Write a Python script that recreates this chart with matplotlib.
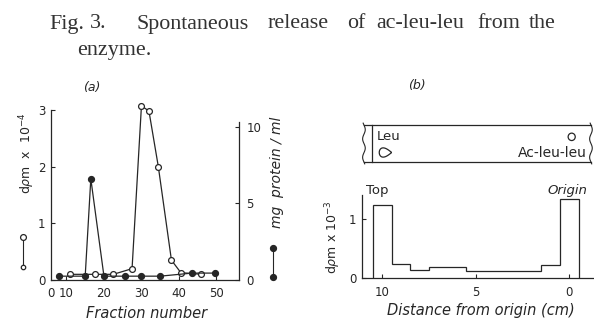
import numpy as np
import matplotlib
matplotlib.use("Agg")
import matplotlib.pyplot as plt
from matplotlib.path import Path
from matplotlib.patches import Ellipse

# ---- data ----
# (a) gel filtration: radioactivity (open) and protein (filled)
frac_dpm = [11, 17.5, 22.5, 27.5, 30, 32, 34.5, 38, 40.5, 46]
dpm_e4 = [0.1, 0.1, 0.1, 0.2, 3.07, 2.98, 2.0, 0.35, 0.13, 0.1]
frac_prot = [8, 15, 16.5, 20, 25.5, 30, 35, 43.5, 49.5]
prot_mg = [0.25, 0.25, 6.6, 0.25, 0.25, 0.25, 0.25, 0.45, 0.45]
xticks_a = [10, 20, 30, 40, 50]

# (b) paper strip radioactivity, distance from origin (cm)
bin_edges = [10.5, 9.5, 8.5, 7.5, 5.5, 1.5, 0.5, -0.5]
dpm_e3 = [1.23, 0.24, 0.13, 0.18, 0.12, 0.22, 1.34]
xticks_b = [10, 5, 0]
spot_leu = (9.86, 0.28)
spot_acll = (-0.13, 0.68)

# caption words and their left edges (px), the printed line is justified
caption = ["Fig.", "3.", "Spontaneous", "release", "of", "ac-leu-leu", "from", "the"]
caption_x = [49, 90, 137, 268, 347, 376, 477, 529]

ink = "#262626"
plt.rcParams['font.family'] = ['DejaVu Sans']

W, H = 594, 320
fig = plt.figure(figsize=(W / 100, H / 100), dpi=100)

def box(l, r, t, b):
    # pixel box -> figure fraction
    return [l / W, 1 - b / H, (r - l) / W, (b - t) / H]

for word, xw in zip(caption, caption_x):
    fig.text(xw / W, 1 - 28.5 / H, word, family="Liberation Serif", fontsize=15.8,
             color="#333", va="baseline", ha="left")
fig.text(77 / W, 1 - 55 / H, "enzyme.", family="Liberation Serif", fontsize=15.8,
         color="#333", va="baseline", ha="left")

# ---------------- panel (a) ----------------
ax = fig.add_axes(box(50.7, 239.3, 104.2, 280))
ax2 = ax.twinx()
ax.set_xlim(5.8, 56.1)
ax.set_ylim(0, 3.1)
ax2.set_ylim(0, 11.46)

ax.plot(frac_dpm, dpm_e4, color=ink, lw=0.9, marker="o", ms=4.2, mfc="white",
        mec=ink, mew=0.9, clip_on=False, zorder=3)
ax2.plot(frac_prot, prot_mg, color=ink, lw=0.9, marker="o", ms=4.2, mfc=ink,
         mec=ink, clip_on=False, zorder=3)

for a in (ax, ax2):
    a.spines["top"].set_visible(False)
    for s in a.spines.values():
        s.set_color(ink)
        s.set_linewidth(0.9)
ax.spines["right"].set_visible(False)
ax.spines["left"].set_bounds(0, 3)
ax2.spines["right"].set_bounds(0, 10.3)
ax2.spines["left"].set_visible(False)
ax2.spines["bottom"].set_visible(False)

tick_font = dict(fontsize=8.5, color=ink)
ax.set_xticks([5.8] + xticks_a)
ax.set_xticklabels(["0"] + [str(t) for t in xticks_a], **tick_font)
ax.set_yticks([0, 1, 2, 3])
ax.set_yticklabels(["0", "1", "2", "3"], **tick_font)
ax2.set_yticks([0, 5, 10])
ax2.set_yticklabels(["0", "5", "10"], **tick_font)
ax.tick_params(direction="in", length=3, width=0.8, color=ink, pad=4)
ax.tick_params(axis="x", pad=5)
ax2.tick_params(direction="in", length=3, width=0.8, color=ink, pad=5)
ax.xaxis.get_major_ticks()[0].tick1line.set_visible(False)

fig.text(147 / W, 1 - 314 / H, "Fraction number", fontsize=10.5, style="italic",
         color=ink, ha="center", va="center")
fig.text(27 / W, 1 - 153 / H, r"d$\rho$m  x  10$^{-4}$", fontsize=9, rotation=90,
         color=ink, ha="center", va="center")
fig.text(277 / W, 1 - 172 / H, "mg  protein / ml", fontsize=10, rotation=90,
         style="italic", color=ink, ha="center", va="center")
# key symbols next to the axis labels
fig.lines.append(plt.Line2D([23 / W, 23 / W], [1 - 236.7 / H, 1 - 267 / H],
                            transform=fig.transFigure, color=ink, lw=0.8))
fig.lines.append(plt.Line2D([23 / W], [1 - 236.7 / H], transform=fig.transFigure,
                            marker="o", ms=4.2, mfc="white", mec=ink, mew=0.9))
fig.lines.append(plt.Line2D([23 / W], [1 - 267 / H], transform=fig.transFigure,
                            marker="o", ms=3.2, mfc="white", mec=ink, mew=0.9))
fig.lines.append(plt.Line2D([273 / W, 273 / W], [1 - 247.7 / H, 1 - 277.3 / H],
                            transform=fig.transFigure, color=ink, lw=0.8))
fig.lines.append(plt.Line2D([273 / W, 273 / W], [1 - 247.7 / H, 1 - 277.3 / H],
                            transform=fig.transFigure, ls="none", marker="o",
                            ms=4.2, mfc=ink, mec=ink))
fig.text(92 / W, 1 - 88 / H, "(a)", fontsize=9, style="italic", color=ink,
         ha="center", va="center")

# ---------------- panel (b) ----------------
bx = fig.add_axes(box(361.7, 593, 192.5, 278))
bx.set_xlim(11.1, -1.27)
bx.set_ylim(0, 1.45)
bx.stairs(dpm_e3, bin_edges, color=ink, lw=0.9, baseline=0)
for s in ("top", "right"):
    bx.spines[s].set_visible(False)
for s in ("left", "bottom"):
    bx.spines[s].set_color(ink)
    bx.spines[s].set_linewidth(0.9)
bx.spines["left"].set_bounds(0, 1.4)
bx.set_xticks(xticks_b)
bx.set_xticklabels([str(t) for t in xticks_b], **tick_font)
bx.set_yticks([0, 1])
bx.set_yticklabels(["0", "1"], **tick_font)
bx.tick_params(direction="in", length=3, width=0.8, color=ink, pad=4)
bx.tick_params(axis="x", pad=6)
fig.text(481 / W, 1 - 310 / H, "Distance from origin (cm)", fontsize=10.5,
         style="italic", color=ink, ha="center", va="center")
fig.text(333 / W, 1 - 237 / H, r"d$\rho$m x 10$^{-3}$", fontsize=9, rotation=90,
         color=ink, ha="center", va="center")
fig.text(416.7 / W, 1 - 85 / H, "(b)", fontsize=9, style="italic", color=ink,
         ha="center", va="center")

# paper strip sketch above the histogram
sx = fig.add_axes(box(361.7, 593, 125, 162), sharex=bx)
sx.set_ylim(0, 1)
sx.axis("off")
x_left, x_right, x_top = 10.98, -1.16, 10.57
sx.plot([x_left, x_right], [1, 1], color=ink, lw=0.9, clip_on=False)
sx.plot([x_left, x_right], [0, 0], color=ink, lw=0.9, clip_on=False)
sx.plot([x_top, x_top], [0, 1], color=ink, lw=0.9, clip_on=False)
yy = np.linspace(-0.05, 1.05, 80)
for xe in (x_left, x_right):
    sx.plot(xe + 0.07 * np.sin(yy * 4 * np.pi), yy, color=ink, lw=0.8, clip_on=False)

t = np.linspace(0, 2 * np.pi, 60)
drop = Path(np.column_stack([np.cos(t), np.sin(t) * np.sin(t / 2) ** 1.2]))
sx.plot([spot_leu[0]], [spot_leu[1]], marker=drop, ms=9, mfc="white", mec=ink,
        mew=0.9, ls="none")
sx.add_patch(Ellipse(spot_acll, 0.38, 0.2, fill=False, ec=ink, lw=0.9))
sx.text(10.29, 0.68, "Leu", fontsize=9.5, color=ink, ha="left", va="center")
sx.text(-0.93, 0.23, "Ac-leu-leu", fontsize=10, color=ink, ha="right", va="center")

for xa in (x_top, -0.04):
    sx.annotate("", xy=(xa, -0.15), xytext=(xa, -0.45),
                arrowprops=dict(arrowstyle="->", color=ink, lw=0.8))
sx.text(10.25, -0.77, "Top", fontsize=9.5, color=ink, ha="center", va="center")
sx.text(0.1, -0.77, "Origin", fontsize=9.5, style="italic", color=ink,
        ha="center", va="center")

fig.savefig("out.png", dpi=100, facecolor="white")
